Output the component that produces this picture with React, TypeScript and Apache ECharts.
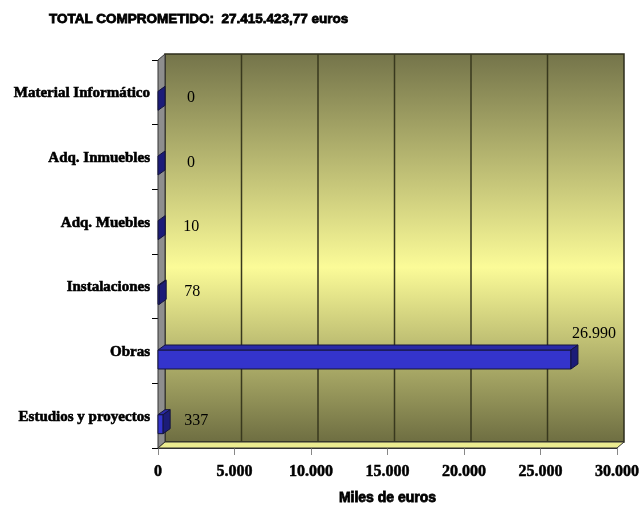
import React, { useEffect, useRef } from "react";
import * as echarts from "echarts";

const categories = [
  "Estudios y proyectos",
  "Obras",
  "Instalaciones",
  "Adq. Muebles",
  "Adq. Inmuebles",
  "Material Informático",
];
const values = [337, 26990, 78, 10, 0, 0];
const xTicks = [0, 5000, 10000, 15000, 20000, 25000, 30000];
const xMax = 30000;
const xStep = 5000;
const titleText = "TOTAL COMPROMETIDO:  27.415.423,77 euros";
const axisName = "Miles de euros";

const DX = 7;
const DY = -6;

function fmt(v: number): string {
  return String(Math.round(v)).replace(/\B(?=(\d{3})+(?!\d))/g, ".");
}

export default function App() {
  const ref = useRef<HTMLDivElement>(null);
  useEffect(() => {
    if (!ref.current) return;
    const chart = echarts.init(ref.current, undefined, { renderer: "svg" });

    const bgRender = (params: any, api: any) => {
      const cs = params.coordSys;
      const x = cs.x, y = cs.y, w = cs.width, h = cs.height;
      const children: any[] = [];
      children.push({
        type: "rect",
        shape: { x: x + DX, y: y + DY, width: w, height: h },
        style: {
          fill: new echarts.graphic.LinearGradient(0, 0, 0, 1, [
            { offset: 0, color: "#74744a" },
            { offset: 0.55, color: "#fbfb98" },
            { offset: 1, color: "#6e6e42" },
          ]),
          stroke: "#2e2e1c",
          lineWidth: 1.5,
        },
      });
      xTicks.forEach((t) => {
        if (t <= 0 || t >= xMax) return;
        const px = api.coord([t, 0])[0] + DX;
        children.push({
          type: "line",
          shape: { x1: px, y1: y + DY, x2: px, y2: y + h + DY },
          style: { stroke: "#38381e", lineWidth: 1.5 },
        });
      });
      children.push({
        type: "polygon",
        shape: {
          points: [
            [x, y],
            [x + DX, y + DY],
            [x + DX, y + h + DY],
            [x, y + h],
          ],
        },
        style: { fill: "#8e8e8e", stroke: "#333", lineWidth: 1 },
      });
      children.push({
        type: "polygon",
        shape: {
          points: [
            [x, y + h],
            [x + DX, y + h + DY],
            [x + w + DX, y + h + DY],
            [x + w, y + h],
          ],
        },
        style: { fill: "#ecec90", stroke: "#333", lineWidth: 1 },
      });
      return { type: "group", children };
    };

    const barRender = (params: any, api: any) => {
      const cs = params.coordSys;
      const v = api.value(0);
      const idx = api.value(1);
      const p = api.coord([v, idx]);
      const x0 = api.coord([0, idx])[0];
      const x1 = p[0];
      const c = p[1];
      const y0 = c - 1;
      const y1 = c + 18;
      const children: any[] = [];
      if (x1 - x0 > 0.5) {
        children.push({
          type: "rect",
          shape: { x: x0, y: y0, width: x1 - x0, height: y1 - y0 },
          style: { fill: "#3434cc", stroke: "#14143c", lineWidth: 1 },
        });
        children.push({
          type: "polygon",
          shape: {
            points: [
              [x0, y0],
              [x0 + DX, y0 + DY + 1],
              [x1 + DX, y0 + DY + 1],
              [x1, y0],
            ],
          },
          style: { fill: "#2a2aa6", stroke: "#14143c", lineWidth: 1 },
        });
      }
      children.push({
        type: "polygon",
        shape: {
          points: [
            [x1, y0],
            [x1 + DX, y0 + DY + 1],
            [x1 + DX, y1 + DY + 1],
            [x1, y1],
          ],
        },
        style: { fill: "#1c1c78", stroke: "#14143c", lineWidth: 1 },
      });
      const label = fmt(v);
      const lw = label.length * 8;
      let lx = x1 + DX + 26;
      let ly = c + 4;
      if (lx + lw / 2 > cs.x + cs.width) {
        lx = x1 + 23;
        ly = y0 - 18;
      }
      children.push({
        type: "text",
        x: lx,
        y: ly,
        style: {
          text: label,
          fill: "#000",
          font: "16px 'Liberation Serif'",
          align: "center",
          verticalAlign: "middle",
        },
      });
      return { type: "group", children };
    };

    chart.setOption({
      animation: false,
      title: {
        text: titleText,
        left: 49,
        top: 11,
        padding: 0,
        textStyle: {
          fontFamily: "Liberation Sans",
          fontWeight: "bold",
          fontSize: 13.5,
          color: "#000",
          textBorderColor: "#000",
          textBorderWidth: 0.8,
        },
      },
      grid: {
        left: 158,
        width: 459,
        top: 60,
        height: 388,
        containLabel: false,
        outerBoundsMode: "none",
      },
      xAxis: {
        type: "value",
        min: 0,
        max: xMax,
        interval: xStep,
        axisLine: { show: true, lineStyle: { color: "#333", width: 1 } },
        axisTick: { show: true, length: 7, lineStyle: { color: "#888", width: 1 } },
        splitLine: { show: false },
        axisLabel: {
          formatter: (v: number) => fmt(v),
          fontFamily: "Liberation Serif",
          fontWeight: "bold",
          fontSize: 16,
          color: "#000",
          margin: 14,
          textBorderColor: "#000",
          textBorderWidth: 0.5,
        },
        name: axisName,
        nameLocation: "middle",
        nameGap: 42,
        nameTextStyle: {
          fontFamily: "Liberation Sans",
          fontWeight: "bold",
          fontSize: 14,
          color: "#000",
          textBorderColor: "#000",
          textBorderWidth: 0.8,
        },
      },
      yAxis: {
        type: "category",
        data: categories,
        axisLine: { show: false },
        axisTick: { show: true, length: 6, interval: 0, lineStyle: { color: "#000" } },
        axisLabel: {
          fontFamily: "Liberation Serif",
          fontWeight: "bold",
          fontSize: 15,
          color: "#000",
          margin: 8,
          interval: 0,
          textBorderColor: "#000",
          textBorderWidth: 0.6,
        },
        splitLine: { show: false },
      },
      series: [
        {
          type: "custom",
          renderItem: bgRender,
          data: [[0, 0]],
          silent: true,
          clip: false,
          z: 1,
        },
        {
          type: "custom",
          renderItem: barRender,
          data: values.map((v, i) => [v, i]),
          encode: { x: 0, y: 1 },
          clip: false,
          z: 3,
        },
      ],
    });
    return () => chart.dispose();
  }, []);
  return (
    <div
      ref={ref}
      style={{ position: "fixed", left: 0, top: 0, width: 642, height: 505 }}
    />
  );
}
